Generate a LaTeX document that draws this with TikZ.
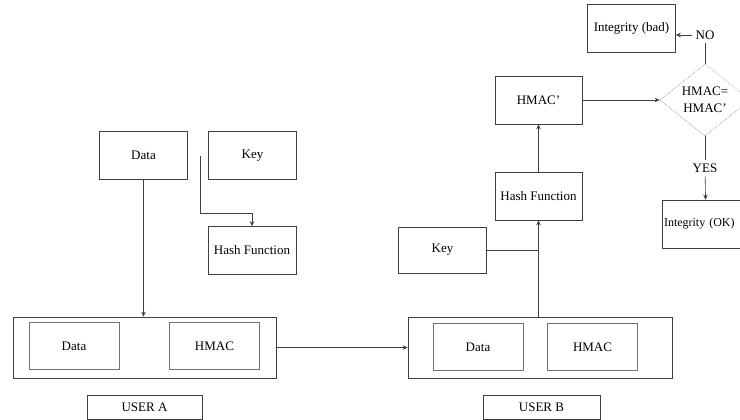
\documentclass[tikz,border=0pt]{standalone}
\usepackage{fontspec}
\setmainfont{Liberation Serif}
\usetikzlibrary{arrows.meta,shapes.geometric}

\begin{document}
\begin{tikzpicture}[x=1pt,y=-1pt,
        font=\fontsize{13}{15}\selectfont,
        box/.style={draw=black!75,line width=0.6pt,minimum width=88pt,minimum height=48pt,inner sep=1pt},
        inbox/.style={box,draw=black!55,minimum width=90pt,minimum height=47pt},
        arr/.style={draw=black!75,line width=0.6pt,-{Stealth[length=5pt,width=4.5pt]}},
        con/.style={draw=black!75,line width=0.6pt}]
        \useasboundingbox (0,0) rectangle (740,420);
        \node[box] (dataA) at (143.5,155.5) {Data};
        \node[box] (keyA) at (252.5,155.5) {Key};
        \node[box] (hashA) at (252,250.5) {Hash Function};
        \node[box,minimum width=263pt,minimum height=61pt] (outA) at (144.5,347.5) {};
        \node[inbox] (inDataA) at (74,346) {Data};
        \node[inbox] (inHmacA) at (214.5,346) {HMAC};
        \node[box,minimum width=115pt,minimum height=24pt] (userA) at (144.5,407) {USER A};
        \node[box,minimum width=264pt,minimum height=61pt] (outB) at (540,347.5) {};
        \node[inbox] (inDataB) at (478,347) {Data};
        \node[inbox] (inHmacB) at (592.5,347) {HMAC};
        \node[box,minimum width=117pt,minimum height=24pt] (userB) at (541.5,407) {USER B};
        \node[box,minimum height=46pt] (keyB) at (442.5,250) {Key};
        \node[box,minimum width=87pt] (hashB) at (538.5,196) {Hash Function};
        \node[box,minimum width=87pt] (hmacB) at (538.5,100) {HMAC'};
        \node[draw=black!45,densely dotted,line width=0.6pt,diamond,minimum width=90pt,minimum height=66pt,
            inner sep=0pt,align=center] (cmp) at (705,100) {HMAC=\\[2pt]HMAC'};
        \node[box] (bad) at (631.5,28) {Integrity (bad)};
        \node[box,text width=84pt,inner sep=2pt,align=left,font=\fontsize{12}{14}\selectfont] (ok) at (706,224) {Integrity (OK)};
        \node (no) at (705,35) {NO};
        \node (yes) at (705,168) {YES};
        \draw[arr] (dataA.south) -- (dataA.south |- outA.north);
        \draw[arr] ([xshift=-8pt]keyA.west) -- ++(0,58) -| (hashA.north);
        \draw[arr] (outA) -- (outB);
        \draw[arr] (hashB.south |- outB.north) -- (hashB.south);
        \draw[con] (keyB.east) -- (keyB.east -| hashB.south);
        \draw[arr] (hashB) -- (hmacB);
        \draw[arr] (hmacB) -- (cmp);
        \draw[con] (cmp.north) -- (no);
        \draw[arr] (no.west) -- (no.west -| bad.east);
        \draw[con] (cmp.south) -- (yes);
        \draw[arr] (yes) -- (ok);
    \end{tikzpicture}
\end{document}
